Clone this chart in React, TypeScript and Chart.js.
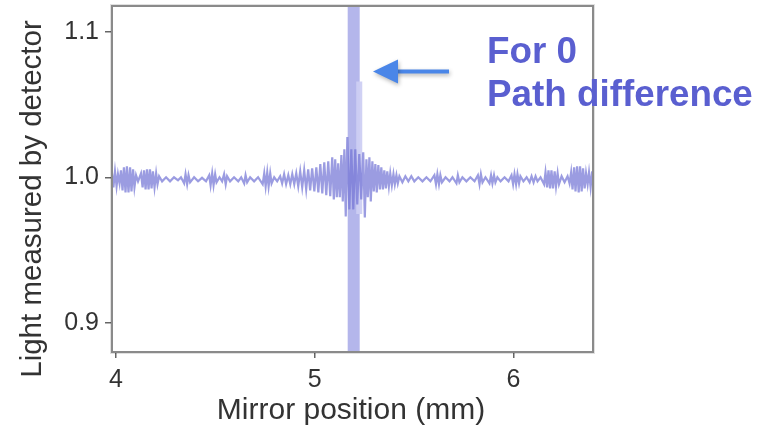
import React, { useEffect, useRef } from 'react';
import { Chart, registerables } from 'chart.js';

Chart.register(...registerables);

const FONT = '"Liberation Sans", Arial, Helvetica, sans-serif';

const xTicks = [4, 5, 6];
const yTicks = [0.9, 1.0, 1.1];
const xTitle = 'Mirror position (mm)';
const yTitle = 'Light measured by detector';
const noteLines = ['For 0', 'Path difference'];

// interferogram trace (mm, relative light level)
const mirrorPos = [
  3.980, 3.987, 3.995, 4.003, 4.010, 4.018, 4.025, 4.033, 4.040, 4.048, 4.055, 4.063, 4.071, 4.078, 4.086, 4.093,
  4.101, 4.111, 4.126, 4.134, 4.141, 4.149, 4.156, 4.164, 4.171, 4.179, 4.186, 4.194, 4.202, 4.209, 4.217, 4.232,
  4.252, 4.272, 4.292, 4.312, 4.327, 4.343, 4.350, 4.358, 4.365, 4.373, 4.393, 4.413, 4.433, 4.453, 4.469, 4.476,
  4.484, 4.491, 4.499, 4.506, 4.521, 4.534, 4.544, 4.552, 4.559, 4.574, 4.594, 4.615, 4.630, 4.645, 4.652, 4.660,
  4.675, 4.695, 4.715, 4.738, 4.746, 4.753, 4.761, 4.768, 4.776, 4.783, 4.796, 4.811, 4.826, 4.836, 4.846, 4.856,
  4.867, 4.877, 4.887, 4.897, 4.907, 4.917, 4.927, 4.937, 4.947, 4.957, 4.967, 4.977, 4.987, 4.998, 5.008, 5.018,
  5.028, 5.038, 5.048, 5.058, 5.068, 5.078, 5.088, 5.096, 5.103, 5.111, 5.118, 5.126, 5.134, 5.141, 5.149, 5.156,
  5.164, 5.174, 5.184, 5.194, 5.204, 5.214, 5.224, 5.234, 5.244, 5.252, 5.260, 5.267, 5.275, 5.282, 5.290, 5.297,
  5.305, 5.312, 5.320, 5.328, 5.335, 5.343, 5.350, 5.358, 5.365, 5.373, 5.380, 5.388, 5.396, 5.403, 5.411, 5.418,
  5.426, 5.441, 5.456, 5.471, 5.486, 5.501, 5.521, 5.542, 5.562, 5.582, 5.602, 5.610, 5.617, 5.625, 5.632, 5.640,
  5.658, 5.678, 5.693, 5.713, 5.720, 5.728, 5.743, 5.763, 5.783, 5.804, 5.821, 5.829, 5.836, 5.844, 5.859, 5.879,
  5.887, 5.894, 5.902, 5.909, 5.919, 5.935, 5.955, 5.975, 5.990, 5.998, 6.005, 6.013, 6.020, 6.028, 6.035, 6.050,
  6.066, 6.081, 6.091, 6.101, 6.111, 6.121, 6.136, 6.154, 6.161, 6.169, 6.176, 6.184, 6.191, 6.199, 6.207, 6.214,
  6.222, 6.229, 6.242, 6.257, 6.272, 6.282, 6.290, 6.297, 6.305, 6.312, 6.320, 6.328, 6.335, 6.343, 6.350, 6.358,
  6.365, 6.373, 6.380, 6.388, 6.396, 6.403,
];

const lightLevel = [
  1.0029, 0.9933, 1.0043, 0.9940, 1.0023, 0.9960, 1.0050, 0.9912, 1.0071, 0.9898, 1.0078, 0.9898, 1.0071, 0.9905, 1.0057, 0.9933,
  1.0016, 0.9974, 1.0029, 0.9933, 1.0050, 0.9919, 1.0057, 0.9919, 1.0057, 0.9926, 1.0043, 0.9933, 1.0029, 0.9954, 1.0009, 0.9974,
  1.0002, 0.9974, 1.0002, 0.9981, 1.0002, 0.9960, 1.0023, 0.9954, 1.0016, 0.9967, 1.0002, 0.9974, 0.9998, 0.9974, 1.0016, 0.9947,
  1.0029, 0.9947, 1.0023, 0.9967, 1.0002, 0.9974, 1.0023, 0.9954, 1.0009, 0.9974, 1.0002, 0.9974, 1.0002, 0.9960, 1.0016, 0.9967,
  1.0002, 0.9974, 1.0002, 0.9954, 1.0029, 0.9940, 1.0036, 0.9940, 1.0029, 0.9960, 1.0002, 0.9974, 1.0009, 0.9960, 1.0023, 0.9954,
  1.0016, 0.9954, 1.0023, 0.9954, 1.0029, 0.9940, 1.0043, 0.9933, 1.0050, 0.9919, 1.0057, 0.9912, 1.0064, 0.9905, 1.0071, 0.9898,
  1.0092, 0.9891, 1.0105, 0.9878, 1.0112, 0.9871, 1.0140, 0.9850, 1.0126, 0.9864, 1.0098, 0.9864, 1.0154, 0.9836, 1.0195, 0.9733,
  1.0278, 0.9781, 1.0195, 0.9781, 1.0195, 0.9815, 1.0161, 0.9850, 1.0174, 0.9726, 1.0126, 0.9864, 1.0140, 0.9836, 1.0112, 0.9905,
  1.0092, 0.9898, 1.0085, 0.9919, 1.0071, 0.9919, 1.0050, 0.9926, 1.0043, 0.9940, 1.0029, 0.9947, 1.0023, 0.9954, 1.0016, 0.9960,
  1.0009, 0.9967, 1.0009, 0.9974, 1.0009, 0.9974, 1.0002, 0.9974, 1.0002, 0.9974, 1.0016, 0.9954, 1.0023, 0.9954, 1.0016, 0.9967,
  1.0002, 0.9974, 1.0002, 0.9960, 1.0016, 0.9967, 1.0002, 0.9974, 1.0002, 0.9974, 1.0016, 0.9954, 1.0023, 0.9967, 1.0002, 0.9960,
  1.0016, 0.9960, 1.0016, 0.9967, 1.0002, 0.9974, 1.0002, 0.9974, 1.0016, 0.9954, 1.0023, 0.9954, 1.0023, 0.9960, 1.0009, 0.9974,
  1.0002, 0.9967, 1.0009, 0.9967, 1.0009, 0.9974, 1.0002, 0.9954, 1.0036, 0.9933, 1.0050, 0.9926, 1.0050, 0.9926, 1.0043, 0.9940,
  1.0029, 0.9954, 1.0009, 0.9967, 1.0009, 0.9960, 1.0036, 0.9919, 1.0071, 0.9905, 1.0078, 0.9898, 1.0078, 0.9905, 1.0064, 0.9926,
  1.0029, 0.9954, 1.0036, 0.9933, 1.0043, 0.9933,
];

// zero path difference peak (runs off the plot) and its lighter neighbour
const peakPos = [5.196, 5.196];
const peakLevel = [0.86, 1.14];
const echoPos = [5.224, 5.224];
const echoLevel = [1.066, 0.975];

const decorPlugin = {
  id: 'decor',
  afterDraw(chart: any) {
    const { ctx, chartArea } = chart;
    const { left, top, right, bottom } = chartArea;
    ctx.save();
    // frame
    ctx.strokeStyle = 'rgba(0,0,0,0.12)';
    ctx.lineWidth = 1;
    ctx.strokeRect(left - 1.5, top - 1.5, right - left + 3, bottom - top + 3);
    ctx.strokeStyle = '#8a8a8a';
    ctx.lineWidth = 2;
    ctx.strokeRect(left, top, right - left, bottom - top);

    // axis titles
    ctx.fillStyle = '#333';
    ctx.textAlign = 'center';
    ctx.textBaseline = 'middle';
    ctx.font = `30px ${FONT}`;
    ctx.fillText(xTitle, 351, 411);
    ctx.save();
    ctx.translate(33, 199);
    ctx.rotate(-Math.PI / 2);
    ctx.font = `29.5px ${FONT}`;
    ctx.fillText(yTitle, 0, 0);
    ctx.restore();

    // annotation
    ctx.fillStyle = '#5a5fd0';
    ctx.font = `bold 36.8px ${FONT}`;
    ctx.textAlign = 'left';
    ctx.textBaseline = 'alphabetic';
    ctx.fillText(noteLines[0], 487, 63);
    ctx.fillText(noteLines[1], 487, 106);

    ctx.shadowColor = 'rgba(0,0,0,0.3)';
    ctx.shadowBlur = 4;
    ctx.shadowOffsetX = 1;
    ctx.shadowOffsetY = 2;
    ctx.strokeStyle = '#4a86e8';
    ctx.fillStyle = '#4a86e8';
    ctx.lineWidth = 4;
    ctx.beginPath();
    ctx.moveTo(449, 71.5);
    ctx.lineTo(395, 71.5);
    ctx.stroke();
    ctx.beginPath();
    ctx.moveTo(373, 71.5);
    ctx.lineTo(398, 59.5);
    ctx.lineTo(398, 83.5);
    ctx.closePath();
    ctx.fill();
    ctx.restore();
  },
};

export default function App() {
  const ref = useRef<HTMLCanvasElement>(null);

  useEffect(() => {
    if (!ref.current) return;
    const signal = mirrorPos.map((x, i) => ({ x, y: lightLevel[i] }));
    const peak = peakPos.map((x, i) => ({ x, y: peakLevel[i] }));
    const echo = echoPos.map((x, i) => ({ x, y: echoLevel[i] }));

    const chart = new Chart(ref.current, {
      type: 'scatter',
      data: {
        datasets: [
          { data: signal, showLine: true, borderColor: 'rgba(112,114,212,0.7)', borderWidth: 2.2, pointRadius: 0, tension: 0 },
          { data: echo, showLine: true, borderColor: 'rgba(206,207,243,0.95)', borderWidth: 6, pointRadius: 0 },
          { data: peak, showLine: true, borderColor: 'rgba(180,182,235,1)', borderWidth: 12, pointRadius: 0 },
          { data: peak, showLine: true, borderColor: 'rgba(150,152,224,1)', borderWidth: 5, pointRadius: 0 },
        ] as any,
      },
      options: {
        responsive: false,
        animation: false,
        layout: { padding: { left: 0, right: 167, top: 6, bottom: 0 } },
        plugins: { legend: { display: false }, tooltip: { enabled: false } },
        scales: {
          x: {
            type: 'linear',
            min: 3.98,
            max: 6.4,
            afterBuildTicks: (s: any) => { s.ticks = xTicks.map((v) => ({ value: v })); },
            afterFit: (s: any) => { s.height = 75; s.paddingLeft = 0; s.paddingRight = 0; },
            grid: { drawOnChartArea: false, drawTicks: true, tickLength: 6, color: '#666', lineWidth: 1.5 },
            border: { display: false },
            ticks: { font: { family: FONT, size: 25 }, color: '#333', padding: 7, maxRotation: 0, callback: (v: any) => String(v) },
          },
          y: {
            type: 'linear',
            min: 0.88,
            max: 1.118,
            afterBuildTicks: (s: any) => { s.ticks = yTicks.map((v) => ({ value: v })); },
            afterFit: (s: any) => { s.width = 112; s.paddingTop = 0; s.paddingBottom = 0; },
            grid: { drawOnChartArea: false, drawTicks: true, tickLength: 7, color: '#666', lineWidth: 1.5 },
            border: { display: false },
            ticks: { font: { family: FONT, size: 25 }, color: '#333', padding: 6, callback: (v: any) => Number(v).toFixed(1) },
          },
        },
      } as any,
      plugins: [decorPlugin],
    });
    return () => chart.destroy();
  }, []);

  return (
    <canvas
      ref={ref}
      width={760}
      height={427}
      style={{ position: 'fixed', left: 0, top: 0, width: 760, height: 427, display: 'block', background: '#fff', filter: 'blur(0.5px)' }}
    />
  );
}
